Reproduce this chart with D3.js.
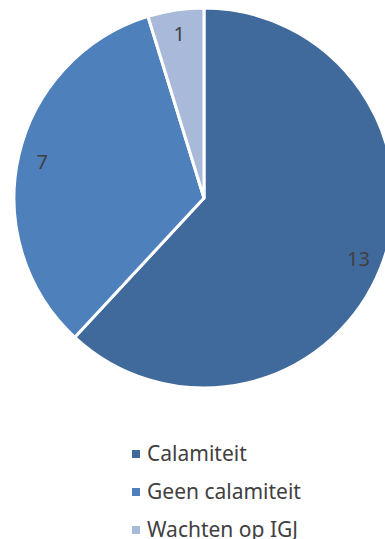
<!DOCTYPE html>
<html>
<head>
    <meta charset="utf-8" />
    <title>Calamiteiten</title>
    <style>
        body { margin: 0; background: #fff; overflow: hidden; }
        svg { display: block; font-family: "Noto Sans", "Open Sans", sans-serif; }
    </style>
</head>
<body>
    <svg id="chart" width="385" height="539"></svg>
    <script src="https://cdnjs.cloudflare.com/ajax/libs/d3/7.8.5/d3.min.js"></script>
    <script>
        // data
        var categories = ["Calamiteit", "Geen calamiteit", "Wachten op IGJ"];
        var values = [13, 7, 1];
        var colors = ["#416A9C", "#4E80BC", "#A9B9D9"];

        var svg = d3.select("#chart");
        var cx = 204, cy = 198, r = 190;

        var pie = d3.pie().sort(null).value(function(d) { return d; });
        var arc = d3.arc().innerRadius(0).outerRadius(r);
        var labelArc = d3.arc().innerRadius(166).outerRadius(166);
        var color = d3.scaleOrdinal().domain(categories).range(colors);

        var g = svg.append("g").attr("transform", "translate(" + cx + "," + cy + ")");
        var arcs = pie(values);

        g.selectAll("path")
            .data(arcs)
            .enter()
            .append("path")
            .attr("d", arc)
            .attr("fill", function(d, i) { return color(categories[i]); })
            .attr("stroke", "#fff")
            .attr("stroke-width", 3)
            .attr("stroke-linejoin", "round");

        g.selectAll("text")
            .data(arcs)
            .enter()
            .append("text")
            .attr("transform", function(d) { return "translate(" + labelArc.centroid(d) + ")"; })
            .attr("text-anchor", "middle")
            .attr("dominant-baseline", "central")
            .attr("font-size", "20px")
            .attr("fill", "#404040")
            .text(function(d) { return d.value; });

        // legend
        var legend = svg.append("g").attr("transform", "translate(132,454)");
        var row = legend.selectAll("g")
            .data(categories)
            .enter()
            .append("g")
            .attr("transform", function(d, i) { return "translate(0," + (i * 38) + ")"; });

        row.append("rect")
            .attr("x", 0)
            .attr("y", -4)
            .attr("width", 8)
            .attr("height", 8)
            .attr("fill", function(d) { return color(d); });

        row.append("text")
            .attr("x", 15)
            .attr("y", 7)
            .attr("font-size", "21px")
            .attr("fill", "#404040")
            .text(function(d) { return d; });
    </script>
</body>
</html>
